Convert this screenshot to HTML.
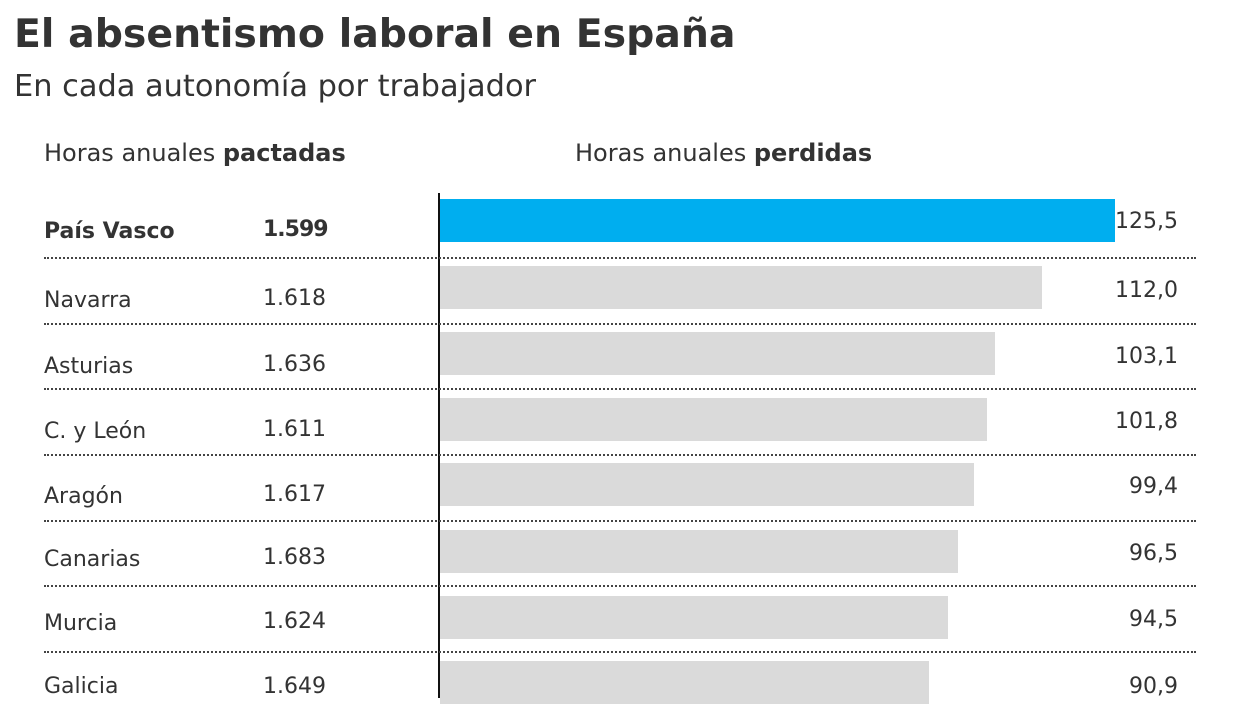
<!DOCTYPE html>
<html><head><meta charset="utf-8"><style>
body{margin:0;width:1248px;height:698px;overflow:hidden;background:#fff;font-family:"DejaVu Sans","Liberation Sans",sans-serif;color:#333;position:relative}
.a{position:absolute;white-space:nowrap}
.t{left:14px;top:10px;font-size:39.4px;font-weight:bold;color:#333;line-height:48px}
.s{left:14px;top:69px;font-size:30.4px;color:#333;line-height:36px}
.h{top:138px;font-size:24px;line-height:30px}
.n{left:44px;font-size:22px;line-height:26px}
.v{left:263px;font-size:22px;line-height:26px}
.bar{position:absolute;left:440px;height:43px;background:#dadada}
.val{right:70px;font-size:22px;line-height:26px;text-align:right}
.dot{position:absolute;left:44px;width:1152px;border-top:2px dotted #444;height:0}
.ax{position:absolute;left:438px;top:193px;width:2px;height:505px;background:#111}
</style></head><body>
<div class="a t">El absentismo laboral en España</div>
<div class="a s">En cada autonomía por trabajador</div>
<div class="a h" style="left:44px">Horas anuales <b>pactadas</b></div>
<div class="a h" style="left:575px">Horas anuales <b>perdidas</b></div>

<div class="bar" style="top:199px;width:675px;background:#00aeef"></div>
<div class="bar" style="top:266px;width:602px"></div>
<div class="bar" style="top:332px;width:555px"></div>
<div class="bar" style="top:398px;width:547px"></div>
<div class="bar" style="top:463px;width:534px"></div>
<div class="bar" style="top:530px;width:518px"></div>
<div class="bar" style="top:596px;width:508px"></div>
<div class="bar" style="top:661px;width:489px"></div>
<div class="ax"></div>

<div class="dot" style="top:257px"></div>
<div class="dot" style="top:323px"></div>
<div class="dot" style="top:388px"></div>
<div class="dot" style="top:454px"></div>
<div class="dot" style="top:520px"></div>
<div class="dot" style="top:585px"></div>
<div class="dot" style="top:651px"></div>

<div class="a n" style="top:219px;font-weight:bold">País Vasco</div><div class="a v" style="top:217px;font-weight:bold;letter-spacing:-1px">1.599</div><div class="a val" style="top:209px">125,5</div>
<div class="a n" style="top:288px">Navarra</div><div class="a v" style="top:286px">1.618</div><div class="a val" style="top:278px">112,0</div>
<div class="a n" style="top:354px">Asturias</div><div class="a v" style="top:352px">1.636</div><div class="a val" style="top:344px">103,1</div>
<div class="a n" style="top:419px">C. y León</div><div class="a v" style="top:417px">1.611</div><div class="a val" style="top:409px">101,8</div>
<div class="a n" style="top:484px">Aragón</div><div class="a v" style="top:482px">1.617</div><div class="a val" style="top:474px">99,4</div>
<div class="a n" style="top:547px">Canarias</div><div class="a v" style="top:545px">1.683</div><div class="a val" style="top:541px">96,5</div>
<div class="a n" style="top:611px">Murcia</div><div class="a v" style="top:609px">1.624</div><div class="a val" style="top:607px">94,5</div>
<div class="a n" style="top:674px">Galicia</div><div class="a v" style="top:674px">1.649</div><div class="a val" style="top:674px">90,9</div>
</body></html>
